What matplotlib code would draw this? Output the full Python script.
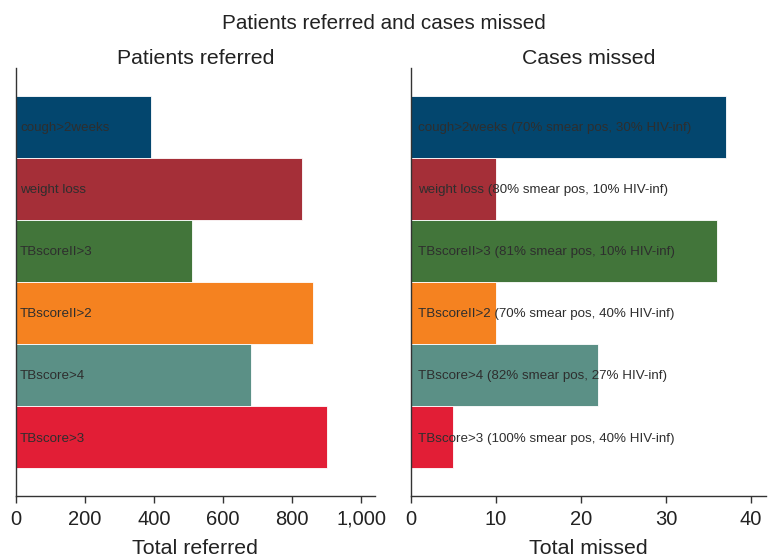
import matplotlib
matplotlib.use("Agg")
import matplotlib.pyplot as plt

plt.rcParams['font.family'] = ['Liberation Sans', 'DejaVu Sans']

categories = ["cough>2weeks", "weight loss", "TBscoreII>3", "TBscoreII>2", "TBscore>4", "TBscore>3"]
referred = [390, 830, 510, 860, 680, 900]
missed = [37, 10, 36, 10, 22, 5]
missed_notes = ["(70% smear pos, 30% HIV-inf)", "(80% smear pos, 10% HIV-inf)",
                "(81% smear pos, 10% HIV-inf)", "(70% smear pos, 40% HIV-inf)",
                "(82% smear pos, 27% HIV-inf)", "(100% smear pos, 40% HIV-inf)"]
colors = ["#03466E", "#A52F38", "#42753A", "#F58220", "#5B9086", "#E21E36"]
ref_ticks = [0, 200, 400, 600, 800, 1000]
ref_ticklabels = ["0", "200", "400", "600", "800", "1,000"]
miss_ticks = [0, 10, 20, 30, 40]

fig = plt.figure(figsize=(7.68, 5.58), dpi=100)
ax1 = fig.add_axes([0.0208, 0.111, 0.467, 0.767])
ax2 = fig.add_axes([0.535, 0.111, 0.463, 0.767])

ypos = list(range(len(categories)))

def style(ax):
    for s in ["top", "right"]:
        ax.spines[s].set_visible(False)
    for s in ["left", "bottom"]:
        ax.spines[s].set_color("#333333")
        ax.spines[s].set_linewidth(1.0)
    ax.set_yticks([])
    ax.tick_params(axis='x', length=5, width=1, color="#333333", labelsize=14.5, labelcolor="#222222", pad=5)
    ax.set_ylim(len(categories) - 0.05, -0.95)

ax1.barh(ypos, referred, height=1.0, color=colors, edgecolor="white", linewidth=0.6)
for i, c in enumerate(categories):
    ax1.annotate(c, xy=(0, i), xytext=(3, -1), textcoords='offset points',
                 va='center', ha='left', fontsize=9.6, color="#2e2e2e")
ax1.set_xlim(0, 1039)
ax1.set_xticks(ref_ticks)
ax1.set_xticklabels(ref_ticklabels)
style(ax1)
ax1.set_xlabel("Total referred", fontsize=15.4, color="#222222", labelpad=7)
ax1.set_title("Patients referred", fontsize=15.3, color="#222222", pad=-6)

ax2.barh(ypos, missed, height=1.0, color=colors, edgecolor="white", linewidth=0.6)
for i, (c, n) in enumerate(zip(categories, missed_notes)):
    ax2.annotate(c + " " + n, xy=(0, i), xytext=(5, -1), textcoords='offset points',
                 va='center', ha='left', fontsize=9.6, color="#2e2e2e")
ax2.set_xlim(0, 41.8)
ax2.set_xticks(miss_ticks)
style(ax2)
ax2.set_xlabel("Total missed", fontsize=15.4, color="#222222", labelpad=7)
ax2.set_title("Cases missed", fontsize=15.3, color="#222222", pad=-6)

fig.text(0.5, 0.958, "Patients referred and cases missed", ha='center', va='center',
         fontsize=14.9, color="#222222")

fig.savefig("out.png", dpi=100)
